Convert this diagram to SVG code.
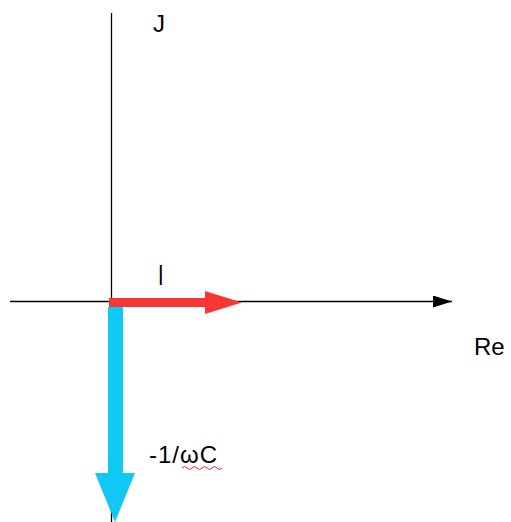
<svg xmlns="http://www.w3.org/2000/svg" width="511" height="522" viewBox="0 0 511 522">
<style>
.ax{stroke:#000;stroke-width:1.3;fill:none}
.t{font-family:"Liberation Sans",Arial,sans-serif;font-size:24px;fill:#000}
</style>
<defs>
<marker id="ah" markerWidth="20" markerHeight="12" refX="19" refY="6" orient="auto" markerUnits="userSpaceOnUse">
<path d="M0,0 L19,6 L0,12 Z" fill="#000"/>
</marker>
</defs>
<rect width="511" height="522" fill="#fff"/>
<g id="connectors">
<line class="ax" x1="111.5" y1="13" x2="111.5" y2="522"/>
<line class="ax" x1="10" y1="301.5" x2="452" y2="301.5" marker-end="url(#ah)"/>
</g>
<g id="current-arrow">
<path d="M109,298 L205,298 L205,291 L242,302.5 L205,314 L205,307 L109,307 Z" fill="#f83636"/>
</g>
<g id="capacitor-arrow">
<path d="M108,307 L123,307 L123,473 L135,473 L115,522 L95,473 L108,473 Z" fill="#0fc8f4"/>
</g>
<g id="labels">
<text class="t" x="153" y="32">J</text>
<text class="t" x="158" y="285" transform="translate(0,-142.5) scale(1,1.5)" style="font-size:20px">I</text>
<text class="t" x="474" y="355">Re</text>
<text class="t" x="149" y="463" letter-spacing="1">-1/ωC</text>
<path d="M182,468 q2.5,-3 5,0 t5,0 t5,0 t5,0 t5,0 t5,0 t5,0 t5,0" stroke="#e02020" stroke-width="1" fill="none"/>
</g>
</svg>
